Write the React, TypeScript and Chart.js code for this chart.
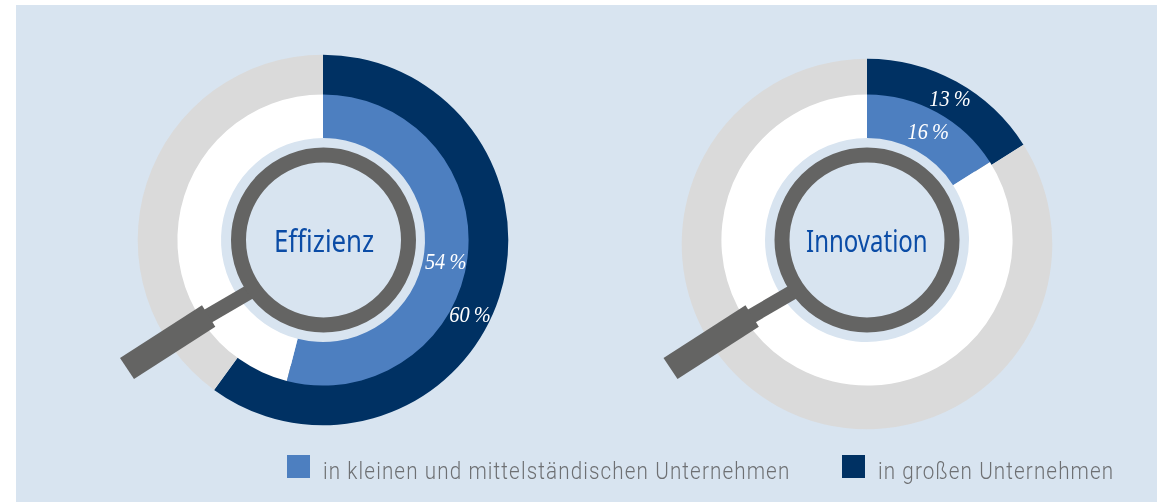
import React, { useEffect, useRef } from "react";
import { Chart, registerables } from "chart.js";

Chart.register(...registerables);

const categories = ["Effizienz", "Innovation"];
const seriesNames = ["in kleinen und mittelständischen Unternehmen", "in großen Unternehmen"];
// Swept share of each ring as drawn in the picture.
const kmuValues = [54, 16];
const grossValues = [60, 16];
// Printed labels. The picture prints 13 % on a dark arc that sweeps about 16 %.
const kmuLabels = ["54\u2009%", "16\u2009%"];
const grossLabels = ["60\u2009%", "13\u2009%"];

const BG = "#d8e4f0";
const BLUE = "#4d7fc0";
const NAVY = "#003163";
const GREY = "#dadada";
const WHITE = "#ffffff";
const LENS = "#646463";
const TITLE = "#0b4ca6";
const LEGEND = "#6e7073";
const HALF = 190;

type RingLabel = { text: string; angle: number; radius: number; dy: number };
type RingProps = {
  cx: number; cy: number; outer: number; inner: number; value: number;
  color: string; rest: string; labels: RingLabel[]; name: string;
};

function Ring({ cx, cy, outer, inner, value, color, rest, labels, name }: RingProps) {
  const ref = useRef<HTMLCanvasElement | null>(null);
  useEffect(() => {
    if (!ref.current) return;
    const labelPlugin = {
      id: "ringLabel",
      afterDatasetsDraw(chart: any) {
        const arc = chart.getDatasetMeta(0).data[0];
        const { x, y } = arc.getProps(["x", "y"], true);
        const ctx = chart.ctx;
        labels.forEach((l) => {
          const a = ((l.angle - 90) * Math.PI) / 180;
          ctx.save();
          ctx.translate(x + l.radius * Math.cos(a), y + 1.5 + l.dy + l.radius * Math.sin(a));
          ctx.scale(0.85, 1);
          ctx.font = "italic 24px 'Liberation Serif'";
          ctx.fillStyle = "#ffffff";
          ctx.textAlign = "center";
          ctx.textBaseline = "middle";
          ctx.fillText(l.text, 0, 0);
          ctx.restore();
        });
      },
    };
    const chart = new Chart(ref.current, {
      type: "doughnut",
      data: {
        labels: [name, "Rest"],
        datasets: [{ data: [value, 100 - value], backgroundColor: [color, rest], borderWidth: 0, hoverOffset: 0 }],
      },
      options: {
        animation: false,
        responsive: false,
        radius: outer,
        cutout: `${(inner / outer) * 100}%`,
        plugins: { legend: { display: false }, tooltip: { enabled: false } },
      },
      plugins: [labelPlugin],
    } as any);
    return () => chart.destroy();
  }, []);
  return (
    <canvas
      ref={ref}
      width={HALF * 2}
      height={HALF * 2}
      style={{ position: "absolute", left: cx - HALF, top: cy - HALF, width: HALF * 2, height: HALF * 2 }}
    />
  );
}

function Magnifier({ cx, cy }: { cx: number; cy: number }) {
  const pts = (p: number[][]) => p.map(([x, y]) => `${cx + x},${cy + y}`).join(" ");
  return (
    <svg width={1162} height={502} style={{ position: "absolute", left: 0, top: 0 }}>
      <polygon points={pts([[-125, 73], [-70, 41], [-61, 53], [-116, 85]])} fill={LENS} />
      <polygon points={pts([[-203.5, 118], [-121.5, 65.3], [-108.2, 86.7], [-189.5, 139]])} fill={LENS} />
      <circle cx={cx} cy={cy} r={85} fill="none" stroke={LENS} strokeWidth={15} />
    </svg>
  );
}

function TextLine({ text, x, y, size, family, color, weight, sx, spacing }: any) {
  return (
    <div
      style={{
        position: "absolute", left: x, top: y, whiteSpace: "nowrap", fontFamily: family, fontSize: size,
        fontWeight: weight, color, lineHeight: 1, letterSpacing: spacing || 0,
        transform: `scaleX(${sx})`, transformOrigin: "left top",
      }}
    >
      {text}
    </div>
  );
}

export default function App() {
  const charts = [
    { cx: 323, outerCy: 239.7, innerCy: 239.7, lensX: 323.5, title: 274, titleSx: 0.86 },
    { cx: 867, outerCy: 244, innerCy: 240, lensX: 867, title: 806, titleSx: 0.80 },
  ];
  const grossAngles = [116.7, 29.6];
  const kmuAngles = [99.6, 29.3];
  const kmuRadius = [124.4, 125];
  const grossRadius = [164.6, 168];
  return (
    <div style={{ position: "absolute", left: 0, top: 0, width: 1162, height: 502, background: "#fff", overflow: "hidden" }}>
      <div style={{ position: "absolute", left: 16, top: 5, width: 1141, height: 497, background: BG }} />
      {charts.map((c, i) => (
        <React.Fragment key={categories[i]}>
          <Ring cx={c.cx} cy={c.outerCy} outer={185.3} inner={130} value={grossValues[i]} color={NAVY} rest={GREY}
            labels={[]} name={seriesNames[1]} />
          <Ring cx={c.cx} cy={c.innerCy} outer={145.6} inner={102} value={kmuValues[i]} color={BLUE} rest={WHITE}
            labels={[
              { text: kmuLabels[i], angle: kmuAngles[i], radius: kmuRadius[i], dy: 0 },
              { text: grossLabels[i], angle: grossAngles[i], radius: grossRadius[i], dy: c.outerCy - c.innerCy },
            ]}
            name={seriesNames[0]} />
        </React.Fragment>
      ))}
      {charts.map((c, i) => (
        <React.Fragment key={"m" + i}>
          <Magnifier cx={c.lensX} cy={240} />
          <TextLine text={categories[i]} x={c.title} y={226} size={30} family="'Noto Sans'" color={TITLE} weight={400} sx={c.titleSx} />
        </React.Fragment>
      ))}
      <div style={{ position: "absolute", left: 287, top: 455, width: 23, height: 23, background: BLUE }} />
      <TextLine text={seriesNames[0]} x={323} y={459} size={24} family="Roboto" color={LEGEND} weight={300} sx={0.86} spacing={1.3} />
      <div style={{ position: "absolute", left: 842, top: 455, width: 23, height: 23, background: NAVY }} />
      <TextLine text={seriesNames[1]} x={878} y={459} size={24} family="Roboto" color={LEGEND} weight={300} sx={0.86} spacing={1.3} />
    </div>
  );
}
